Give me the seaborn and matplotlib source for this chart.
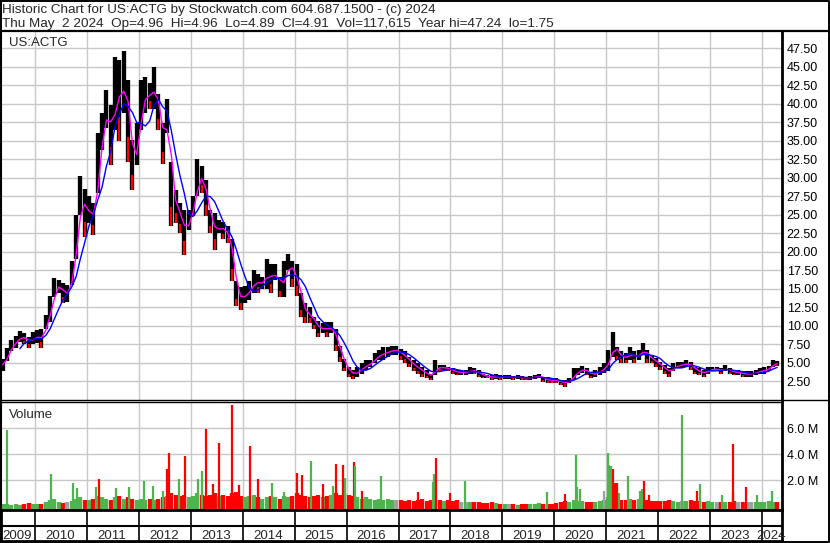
import numpy as np
import pandas as pd
import matplotlib
matplotlib.use("Agg")
import matplotlib.pyplot as plt
import seaborn as sns
from matplotlib.lines import Line2D

# monthly bars, May 2009 .. Apr 2024
first_month = 2009 + 4 / 12

price_high = [
    5.5, 7.0, 8.0, 8.6, 9.3, 9.0, 8.5, 9.2,                                  # 2009
    9.4, 9.5, 11.5, 14.0, 16.4, 16.2, 15.7, 15.5, 18.7, 25.0, 30.2, 28.5,    # 2010
    27.5, 26.6, 36.0, 38.8, 41.9, 39.8, 46.3, 45.9, 47.2, 43.2, 35.1, 37.4,  # 2011
    43.2, 43.7, 42.8, 45.0, 41.4, 37.4, 40.6, 32.2, 28.3, 26.6, 25.7, 25.7,  # 2012
    27.5, 32.5, 31.6, 29.7, 25.7, 25.2, 24.3, 24.0, 23.5, 21.7, 16.0, 15.2,  # 2013
    15.3, 16.0, 17.5, 17.0, 16.6, 19.0, 18.3, 18.3, 16.6, 18.8, 19.7, 18.8,  # 2014
    18.4, 14.4, 13.0, 12.5, 11.2, 10.6, 10.3, 10.5, 10.5, 9.5, 7.2, 5.5,     # 2015
    4.4, 4.0, 4.4, 5.0, 5.3, 5.4, 6.3, 6.7, 7.1, 7.1, 7.3, 7.3,              # 2016
    6.9, 6.5, 5.8, 5.3, 4.9, 4.4, 4.0, 3.5, 5.4, 4.7, 4.7, 4.4,              # 2017
    4.2, 4.0, 4.0, 4.0, 4.4, 4.2, 4.0, 3.5, 3.3, 3.3, 3.4, 3.3,              # 2018
    3.3, 3.3, 3.2, 3.3, 3.2, 3.1, 3.2, 3.3, 3.5, 3.1, 3.0, 2.9,              # 2019
    2.9, 2.7, 2.7, 2.9, 4.2, 4.3, 4.6, 4.3, 3.7, 4.0, 4.4, 4.9,              # 2020
    6.7, 9.1, 7.1, 6.5, 6.3, 7.1, 6.5, 6.7, 7.6, 6.7, 6.0, 5.6,              # 2021
    5.1, 4.7, 4.2, 4.9, 5.1, 5.1, 5.4, 5.1, 4.4, 4.2, 4.0, 4.4,              # 2022
    4.4, 4.4, 4.2, 4.7, 4.2, 4.0, 4.0, 3.8, 3.8, 3.8, 4.0, 4.2,              # 2023
    4.4, 4.6, 5.4, 5.2,                                                      # 2024
]
price_low = [
    3.9, 5.2, 6.5, 7.0, 7.8, 7.5, 7.0, 7.5,
    7.6, 7.0, 9.5, 10.5, 13.9, 14.4, 13.0, 13.2, 15.5, 19.0, 25.0, 22.0,
    23.9, 22.3, 28.0, 33.8, 36.8, 31.7, 36.5, 35.0, 38.8, 32.2, 28.3, 31.7,
    36.5, 38.8, 39.3, 39.3, 36.5, 31.9, 36.0, 23.5, 23.9, 22.5, 19.6, 23.0,
    24.8, 27.5, 28.0, 24.8, 22.5, 20.2, 22.5, 21.7, 21.2, 16.0, 12.6, 12.1,
    13.0, 13.5, 14.4, 14.4, 15.0, 15.0, 14.4, 16.2, 13.9, 13.9, 17.5, 15.2,
    14.0, 11.2, 10.3, 10.3, 9.6, 8.4, 9.0, 8.5, 9.0, 6.5, 5.1, 3.8,
    3.1, 2.8, 3.1, 3.5, 4.0, 4.4, 4.9, 5.3, 5.4, 5.8, 6.0, 6.0,
    5.4, 5.0, 4.4, 3.8, 3.5, 3.1, 2.9, 2.7, 3.3, 3.8, 4.0, 3.8,
    3.5, 3.3, 3.3, 3.3, 3.5, 3.5, 3.1, 2.9, 2.9, 2.7, 2.8, 2.7,
    2.8, 2.8, 2.7, 2.8, 2.7, 2.7, 2.7, 2.8, 2.9, 2.4, 2.2, 2.3,
    2.2, 2.0, 1.75, 2.2, 2.6, 3.3, 3.6, 3.3, 2.9, 3.1, 3.3, 3.6,
    3.8, 5.8, 5.3, 5.0, 5.0, 5.3, 5.0, 5.3, 6.0, 5.0, 4.9, 4.4,
    4.0, 3.5, 3.1, 3.8, 4.2, 4.2, 4.4, 4.0, 3.5, 3.3, 3.1, 3.5,
    3.8, 3.8, 3.5, 3.8, 3.5, 3.3, 3.3, 3.1, 3.1, 3.1, 3.3, 3.5,
    3.5, 3.8, 4.4, 4.5,
]
# typical weekly volume per month, millions
volume_m = [
    0.15, 0.2, 0.1, 0.15, 0.1, 0.15, 0.25, 0.2,
    0.15, 0.2, 0.3, 0.5, 0.6, 0.3, 0.25, 0.35, 0.4, 0.6, 0.7, 0.5,
    0.5, 0.6, 0.8, 0.7, 0.6, 0.5, 0.7, 0.8, 0.6, 0.7, 0.6, 0.5,
    0.6, 0.5, 0.6, 0.5, 0.6, 0.7, 0.8, 1.0, 0.9, 0.8, 0.9, 0.7,
    0.8, 1.0, 0.9, 0.8, 0.9, 1.0, 0.8, 0.9, 0.8, 1.0, 1.1, 0.8,
    0.7, 0.8, 0.9, 0.7, 0.6, 0.7, 0.8, 0.7, 0.6, 0.8, 0.7, 0.8,
    1.0, 0.9, 0.8, 0.7, 0.8, 0.9, 0.7, 0.8, 0.9, 1.0, 0.9, 1.0,
    0.9, 0.8, 0.7, 0.6, 0.7, 0.6, 0.5, 0.6, 0.5, 0.6, 0.5, 0.5,
    0.5, 0.4, 0.5, 0.4, 0.5, 0.6, 0.4, 0.5, 0.7, 0.5, 0.4, 0.5,
    0.4, 0.5, 0.3, 0.3, 0.3, 0.35, 0.3, 0.25, 0.25, 0.3, 0.25, 0.2,
    0.15, 0.2, 0.15, 0.1, 0.15, 0.2, 0.15, 0.2, 0.25, 0.2, 0.15, 0.2,
    0.25, 0.3, 0.4, 0.35, 0.5, 0.45, 0.4, 0.35, 0.3, 0.35, 0.4, 0.5,
    0.7, 0.9, 0.7, 0.5, 0.5, 0.6, 0.5, 0.6, 0.7, 0.5, 0.4, 0.4,
    0.4, 0.4, 0.5, 0.4, 0.35, 0.4, 0.45, 0.5, 0.4, 0.4, 0.35, 0.4,
    0.35, 0.3, 0.35, 0.3, 0.3, 0.4, 0.3, 0.35, 0.3, 0.3, 0.35, 0.3,
    0.3, 0.4, 0.35, 0.3,
]

# single heavy weeks (decimal year, millions, colour g/r/n)
spike_year = [2009.467, 2010.302, 2010.738, 2010.80, 2011.175, 2011.232, 2011.554, 2011.81,
              2012.105, 2012.278, 2012.459, 2012.536, 2012.575, 2012.773, 2012.889, 2013.145,
              2013.222, 2013.287, 2013.422, 2013.537, 2013.788, 2013.928, 2014.14, 2014.288,
              2014.558, 2014.80, 2015.039, 2015.136, 2015.309, 2015.54, 2015.744, 2015.79,
              2015.937, 2015.975, 2016.143, 2016.168, 2016.297, 2016.657, 2017.381, 2017.67,
              2017.69, 2017.722, 2017.99, 2018.28, 2019.853, 2020.206, 2020.418, 2020.443,
              2020.495, 2020.957, 2021.028, 2021.059, 2021.092, 2021.125, 2021.169, 2021.202,
              2021.246, 2021.413, 2021.65, 2021.695, 2021.728, 2021.824, 2022.453, 2022.754,
              2022.806, 2023.224, 2023.435, 2023.447, 2023.686, 2023.898, 2024.187]
spike_vol = [5.87, 2.5, 1.77, 1.4, 1.5, 2.1, 1.4, 1.45,
             1.95, 1.6, 1.2, 2.87, 4.07, 2.1, 3.87, 2.1,
             2.7, 5.95, 1.7, 4.84, 7.8, 1.65, 4.64, 2.1,
             1.8, 1.1, 2.54, 2.4, 3.48, 1.7, 1.6, 3.23,
             3.17, 2.2, 3.38, 3.1, 1.2, 2.33, 1.1, 1.85,
             2.5, 3.7, 1.0, 1.97, 1.1, 0.95, 3.94, 1.5,
             1.3, 1.15, 4.07, 3.2, 3.1, 2.9, 1.8, 1.8,
             1.0, 2.33, 1.2, 1.3, 1.97, 0.9, 7.02, 1.2,
             1.7, 0.9, 1.1, 4.77, 1.45, 0.9, 1.15]
spike_col = ["g", "g", "g", "g", "g", "r", "g", "g",
             "g", "g", "g", "r", "r", "g", "r", "g",
             "g", "r", "r", "r", "r", "r", "r", "r",
             "g", "g", "r", "r", "g", "r", "g", "r",
             "r", "g", "r", "g", "r", "g", "r", "g",
             "g", "r", "r", "g", "g", "r", "g", "g",
             "g", "n", "g", "g", "g", "r", "r", "r",
             "g", "g", "g", "g", "r", "r", "g", "r",
             "g", "g", "r", "r", "r", "g", "g"]

price_ticks = [2.5 * k for k in range(1, 20)]
vol_ticks = [2, 4, 6]
years = list(range(2009, 2025))

title1 = "Historic Chart for US:ACTG by Stockwatch.com 604.687.1500 - (c) 2024"
title2 = "Thu May  2 2024  Op=4.96  Hi=4.96  Lo=4.89  Cl=4.91  Vol=117,615  Year hi=47.24  lo=1.75"

GREEN, RED, GREY = "#4fb44f", "#ff0000", "#a0a0a0"
GRID = "#c8c8c8"

sns.set_style("white")
plt.rcParams["font.family"] = ["Liberation Sans", "DejaVu Sans"]

df = pd.DataFrame({"high": price_high, "low": price_low, "vol": volume_m})
df["t"] = first_month + (np.arange(len(df)) + 0.5) / 12
df["mid"] = (df["high"] + df["low"]) / 2
df["ma_short"] = df["mid"].rolling(2, min_periods=1).mean()
df["ma_long"] = df["mid"].rolling(5).mean()
chg = df["mid"].diff().fillna(1)
df["col"] = np.where(chg > 0, GREEN, np.where(chg < 0, RED, GREY))

W, H = 830, 543
fx = lambda px: px / W
fy = lambda py: 1 - py / H
yr = lambda px: 2010 + (px - 35) / 51.93
xlim = (yr(1), yr(782))

fig = plt.figure(figsize=(W / 100, H / 100), dpi=100)
ax_p = fig.add_axes([fx(1), fy(400), fx(782) - fx(1), fy(31) - fy(400)])
ax_v = fig.add_axes([fx(1), fy(510), fx(782) - fx(1), fy(402) - fy(510)])
ax_y = fig.add_axes([fx(1), fy(541), fx(782) - fx(1), fy(510) - fy(541)])

# price panel
ax_p.vlines(df["t"], df["low"], df["high"], color="black", lw=3.1, zorder=3)
down = df[chg < 0]
ax_p.vlines(down["t"], down["low"], down["low"] + 0.3 * (down["high"] - down["low"]),
            color=RED, lw=1.6, zorder=4)
sns.lineplot(data=df, x="t", y="ma_short", color="#ff00ff", lw=1.0, ax=ax_p, zorder=5)
sns.lineplot(data=df, x="t", y="ma_long", color="#0000ff", lw=1.0, ax=ax_p, zorder=6)
ax_p.set_xlim(xlim)
ax_p.set_ylim((399.5 - 400) * 0.1353, (399.5 - 31) * 0.1353)
ax_p.set_yticks(price_ticks)
ax_p.set_yticklabels([f"{v:.2f}" for v in price_ticks])
ax_p.set_xticks(years[1:])
ax_p.set_xticklabels([])

# volume panel
vb = -0.28
ax_v.vlines(df["t"], vb, df["vol"], colors=df["col"], lw=3.1, zorder=3)
cmap = {"g": GREEN, "r": RED, "n": GREY}
ax_v.vlines(spike_year, vb, spike_vol, colors=[cmap[c] for c in spike_col], lw=1.6, zorder=4)
ax_v.set_xlim(xlim)
ax_v.set_ylim(vb, 8.02)
ax_v.set_yticks(vol_ticks)
ax_v.set_yticklabels([f"{v:.1f} M" for v in vol_ticks])
ax_v.set_xticks(years[1:])
ax_v.set_xticklabels([])

for ax in (ax_p, ax_v):
    ax.set_xlabel("")
    ax.set_ylabel("")
    ax.yaxis.tick_right()
    ax.tick_params(axis="both", length=0, labelsize=9, pad=3.4, labelcolor="black")
    ax.grid(True, color=GRID, lw=1.0, zorder=0)
    ax.set_axisbelow(True)
    for s in ax.spines.values():
        s.set_color("black")
ax_p.spines["top"].set_visible(False)
ax_p.spines["right"].set_linewidth(2)
ax_p.spines["left"].set_linewidth(1.5)
ax_p.spines["bottom"].set_linewidth(1)
ax_v.spines["top"].set_linewidth(1)
ax_v.spines["right"].set_linewidth(2)
ax_v.spines["left"].set_linewidth(1.5)
ax_v.spines["bottom"].set_linewidth(2)

# year band
ax_y.set_xlim(xlim)
ax_y.set_ylim(0, 1)
ax_y.set_xticks([])
ax_y.set_yticks([])
ax_y.vlines(years[1:], 0, 1, color="black", lw=1.2)
ax_y.axhline(0.47, color="black", lw=1.5)
for s in ax_y.spines.values():
    s.set_color("black")
    s.set_linewidth(2)
for y in years:
    lo, hi = max(y, xlim[0]), min(y + 1, xlim[1])
    ax_y.text((lo + hi) / 2 - 0.02, 0.08, str(y), ha="center", va="baseline", fontsize=9.5)

# frame lines and texts
tf = fig.transFigure
fig.add_artist(Line2D([0, 1], [fy(30.5)] * 2, transform=tf, color="black", lw=1.6))
fig.add_artist(Line2D([fx(782), 1], [fy(400)] * 2, transform=tf, color="black", lw=1))
fig.add_artist(Line2D([fx(0.5), fx(829.3), fx(829.3), fx(0.5), fx(0.5)],
                      [fy(0.6), fy(0.6), fy(542.4), fy(542.4), fy(0.6)],
                      transform=tf, color="black", lw=1.4))
fig.text(fx(1.5), fy(12.7), title1, fontsize=9.7, va="baseline")
fig.text(fx(1.5), fy(26.7), title2, fontsize=9.7, va="baseline")
fig.text(fx(9), fy(46), "US:ACTG", fontsize=9.5, va="baseline")
fig.text(fx(9), fy(417.7), "Volume", fontsize=9.5, va="baseline")

fig.savefig("out.png", dpi=100)
